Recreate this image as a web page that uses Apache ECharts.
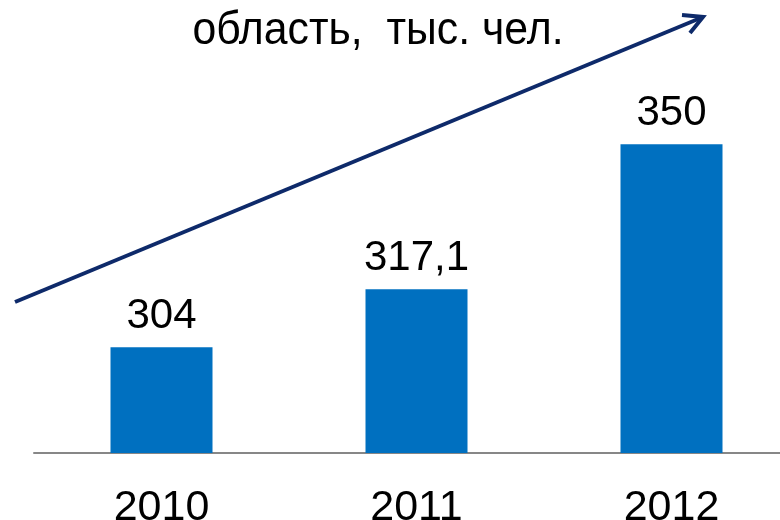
<!DOCTYPE html>
<html>
<head>
<meta charset="utf-8">
<script src="https://cdn.jsdelivr.net/npm/echarts@6/dist/echarts.min.js"></script>
<style>
  html, body { margin: 0; padding: 0; background: #ffffff; }
  #main { width: 780px; height: 520px; }
</style>
</head>
<body>
<div id="main"></div>
<script>
var years = ['2010', '2011', '2012'];
var values = [304, 317.1, 350];
var valueLabels = ['304', '317,1', '350'];
var titleText = 'область,  тыс. чел.';

var chart = echarts.init(document.getElementById('main'));

var option = {
    backgroundColor: '#ffffff',
    animation: false,
    grid: {
        left: 34,
        top: 56,
        width: 765,
        height: 397,
        containLabel: false,
        outerBoundsMode: 'none'
    },
    xAxis: {
        type: 'category',
        data: years,
        axisLine: {
            lineStyle: { color: '#878787', width: 2 }
        },
        axisTick: { show: false },
        axisLabel: {
            margin: 34,
            fontSize: 43,
            fontFamily: '"Liberation Sans", Arial, sans-serif',
            color: '#000000'
        }
    },
    yAxis: {
        type: 'value',
        min: 280,
        max: 370,
        show: false,
        splitLine: { show: false }
    },
    series: [{
        type: 'bar',
        data: values,
        barWidth: '40%',
        itemStyle: { color: '#0070C0' },
        label: {
            show: true,
            position: 'top',
            distance: 10,
            fontSize: 42,
            fontFamily: '"Liberation Sans", Arial, sans-serif',
            color: '#000000',
            formatter: function (p) { return valueLabels[p.dataIndex]; }
        }
    }],
    graphic: [{
        // title, slightly condensed like the original narrow font
        type: 'text',
        x: 378,
        y: 31,
        scaleX: 0.93,
        style: {
            text: titleText,
            fontFamily: '"Liberation Sans", Arial, sans-serif',
            fontSize: 46,
            fill: '#000000',
            textAlign: 'center',
            textVerticalAlign: 'middle'
        }
    }, {
        // trend arrow
        type: 'line',
        shape: { x1: 15, y1: 302, x2: 703, y2: 17 },
        style: { stroke: '#0E2A6A', lineWidth: 4 }
    }, {
        type: 'polyline',
        shape: { points: [[682, 15], [703, 17], [690, 33]] },
        style: { stroke: '#0E2A6A', lineWidth: 4, fill: null, lineJoin: 'miter' }
    }]
};

chart.setOption(option);
</script>
</body>
</html>
